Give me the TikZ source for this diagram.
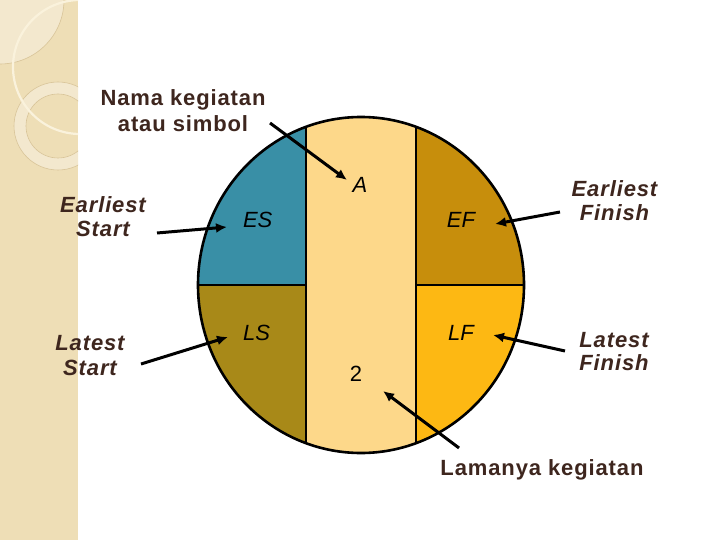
\documentclass[tikz,border=0pt]{standalone}
\usepackage{fontspec}
\setmainfont{Liberation Sans}
\newfontfamily\labfont[LetterSpace=4]{Liberation Sans}
\usetikzlibrary{arrows.meta}
\definecolor{esc}{RGB}{57,143,166}
\definecolor{efc}{RGB}{199,142,12}
\definecolor{lsc}{RGB}{168,137,24}
\definecolor{lfc}{RGB}{253,184,19}
\definecolor{midc}{RGB}{253,216,138}
\definecolor{txtc}{RGB}{62,38,30}
\definecolor{stripc}{RGB}{238,222,182}
\definecolor{stripl}{RGB}{243,232,206}
\definecolor{decoc}{RGB}{216,196,152}
\definecolor{creamc}{RGB}{250,242,220}
\begin{document}
\begin{tikzpicture}[x=1pt,y=-1pt,
  lbl/.style={text=txtc, font=\labfont\bfseries\itshape\fontsize{22pt}{24pt}\selectfont, inner sep=0pt, anchor=base},
  plain/.style={text=txtc, font=\labfont\bfseries\fontsize{22pt}{24pt}\selectfont, inner sep=0pt, anchor=base},
  inlbl/.style={text=black, font=\fontsize{22pt}{26pt}\selectfont\itshape, inner sep=0pt, anchor=base},
  edge/.style={draw=black, line width=2.6pt},
  arr/.style={draw=black, line width=3pt, -{Latex[length=11pt,width=10pt]}},
  deco/.style={draw=decoc, line width=0.6pt}]
\useasboundingbox (0,0) rectangle (720,540);
\fill[white] (0,0) rectangle (720,540);
% decorative strip
\fill[stripc] (0,0) rectangle (78,540);
\begin{scope}
  \clip (0,0) rectangle (78,540);
  \fill[stripl] (0,0) circle[radius=64];
  \draw[deco] (0,0) circle[radius=64];
  \fill[stripl, even odd rule] (58,126) circle[radius=44] (58,126) circle[radius=32];
  \draw[deco] (58,126) circle[radius=44];
  \draw[deco] (58,126) circle[radius=32];
  \draw[creamc, line width=2.2pt] (80,67) circle[radius=67];
\end{scope}
% big circle
\begin{scope}
  \clip (361,285) ellipse [x radius=163, y radius=168];
  \fill[esc] (190,110) rectangle (306,285);
  \fill[lsc] (190,285) rectangle (306,460);
  \fill[midc] (306,110) rectangle (416,460);
  \fill[efc] (416,110) rectangle (530,285);
  \fill[lfc] (416,285) rectangle (530,460);
  \draw[edge] (306,110) -- (306,460);
  \draw[edge] (416,110) -- (416,460);
  \draw[edge] (190,285) -- (306,285);
  \draw[edge] (416,285) -- (530,285);
\end{scope}
\draw[edge] (361,285) ellipse [x radius=163, y radius=168];
% labels inside
\node[inlbl] (A) at (360,192.3) {A};
\node[inlbl] (ES) at (257.7,227.3) {ES};
\node[inlbl] (EF) at (461,227.3) {EF};
\node[inlbl] (LS) at (256.7,340) {LS};
\node[inlbl] (LF) at (461,340) {LF};
\node[inlbl, font=\fontsize{22pt}{26pt}\selectfont] (dur) at (356,381.7) {2};
% outside labels
\node[plain] (nama1) at (183,106) {Nama kegiatan};
\node[plain] (nama2) at (183,131.5) {atau simbol};
\node[lbl] (es1) at (103,212.7) {Earliest};
\node[lbl] (es2) at (103,236.7) {Start};
\node[lbl] (ls1) at (90,350.7) {Latest};
\node[lbl] (ls2) at (90,375) {Start};
\node[lbl] (ef1) at (614.5,196.7) {Earliest};
\node[lbl] (ef2) at (614.5,221) {Finish};
\node[lbl] (lf1) at (614,347.3) {Latest};
\node[lbl] (lf2) at (614,370.7) {Finish};
\node[plain] (lama) at (542,475) {Lamanya kegiatan};
% arrows
\coordinate (nS) at (270,123);  \coordinate (nT) at (347,180);
\coordinate (esS) at (157,233); \coordinate (esT) at (227,227);
\coordinate (lsS) at (141,364); \coordinate (lsT) at (228,337);
\coordinate (efS) at (560,212); \coordinate (efT) at (495,224);
\coordinate (lfS) at (565,351); \coordinate (lfT) at (493,335);
\coordinate (dS) at (459,448);  \coordinate (dT) at (383,391);
\draw[arr] (nS) -- (nT);
\draw[arr] (esS) -- (esT);
\draw[arr] (lsS) -- (lsT);
\draw[arr] (efS) -- (efT);
\draw[arr] (lfS) -- (lfT);
\draw[arr] (dS) -- (dT);
\end{tikzpicture}
\end{document}
